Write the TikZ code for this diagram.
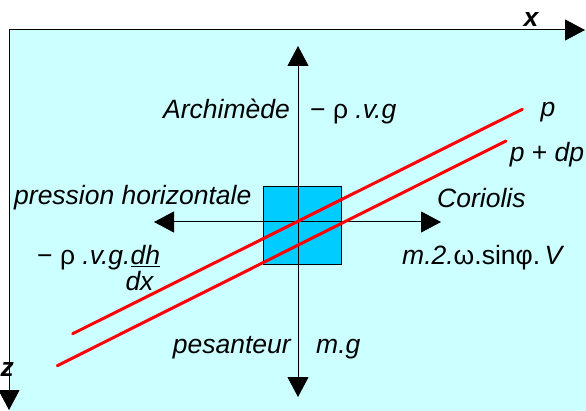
\documentclass[tikz,border=0pt]{standalone}
\usepackage{fontspec}
\setmainfont{Liberation Sans}
\usetikzlibrary{arrows.meta}
\definecolor{eau}{HTML}{CCFFFF}
\definecolor{particule}{HTML}{00CCFF}
\begin{document}
\begin{tikzpicture}[x=1pt,y=-1pt,font=\fontsize{26.5}{30}\selectfont\itshape,
		fl/.style={line width=1pt,-{Triangle[length=20pt,width=21pt]}},
		iso/.style={red,line width=3pt,line cap=round}]
	\useasboundingbox (0,0) rectangle (586,411);
	\fill[eau] (9,30) rectangle (586,411);
	\path (302,226) node[draw,fill=particule,line width=1pt,minimum size=78pt,inner sep=0pt](vol){};
	\foreach \n/\x/\y in {O/9/30,X/585/30,Z/9/410,H/298/46,B/298/397,G/154/222,D/441/222,c/298/222}\coordinate (\n) at (\x,\y);
	\foreach \a/\b in {O/X,O/Z,c/H,c/B,c/G,c/D}\draw[fl] (\a)--(\b);
	\foreach \n/\x/\y in {pa/72.7/333.7,pb/522.3/109.3,qa/57.3/365.7,qb/506/141}\coordinate (\n) at (\x,\y);
	\draw[iso] (pa)--(pb) (qa)--(qb);
	\foreach \x/\y/\a/\gt[count=\i] in {290/119/base east/Archimède,310/119/base west/{{\upshape − ρ} .v.g},14/205/base west/pression horizontale,437/208/base west/Coriolis,37/265/base west/{{\upshape − ρ} .v.g.\underline{dh}},139.5/291/base/dx,402/265/base west/{m.2.{\upshape ω.sinφ.\,}V},291/353/base east/pesanteur,316/353/base west/m.g,548/117/base/p,547/162/base/{p {\upshape +} dp},531/27/base/{\bfseries x},0.5/376/base west/{\bfseries z}}
		\path (\x,\y) node[anchor=\a,inner sep=0pt](t\i){\gt};
\end{tikzpicture}
\end{document}
